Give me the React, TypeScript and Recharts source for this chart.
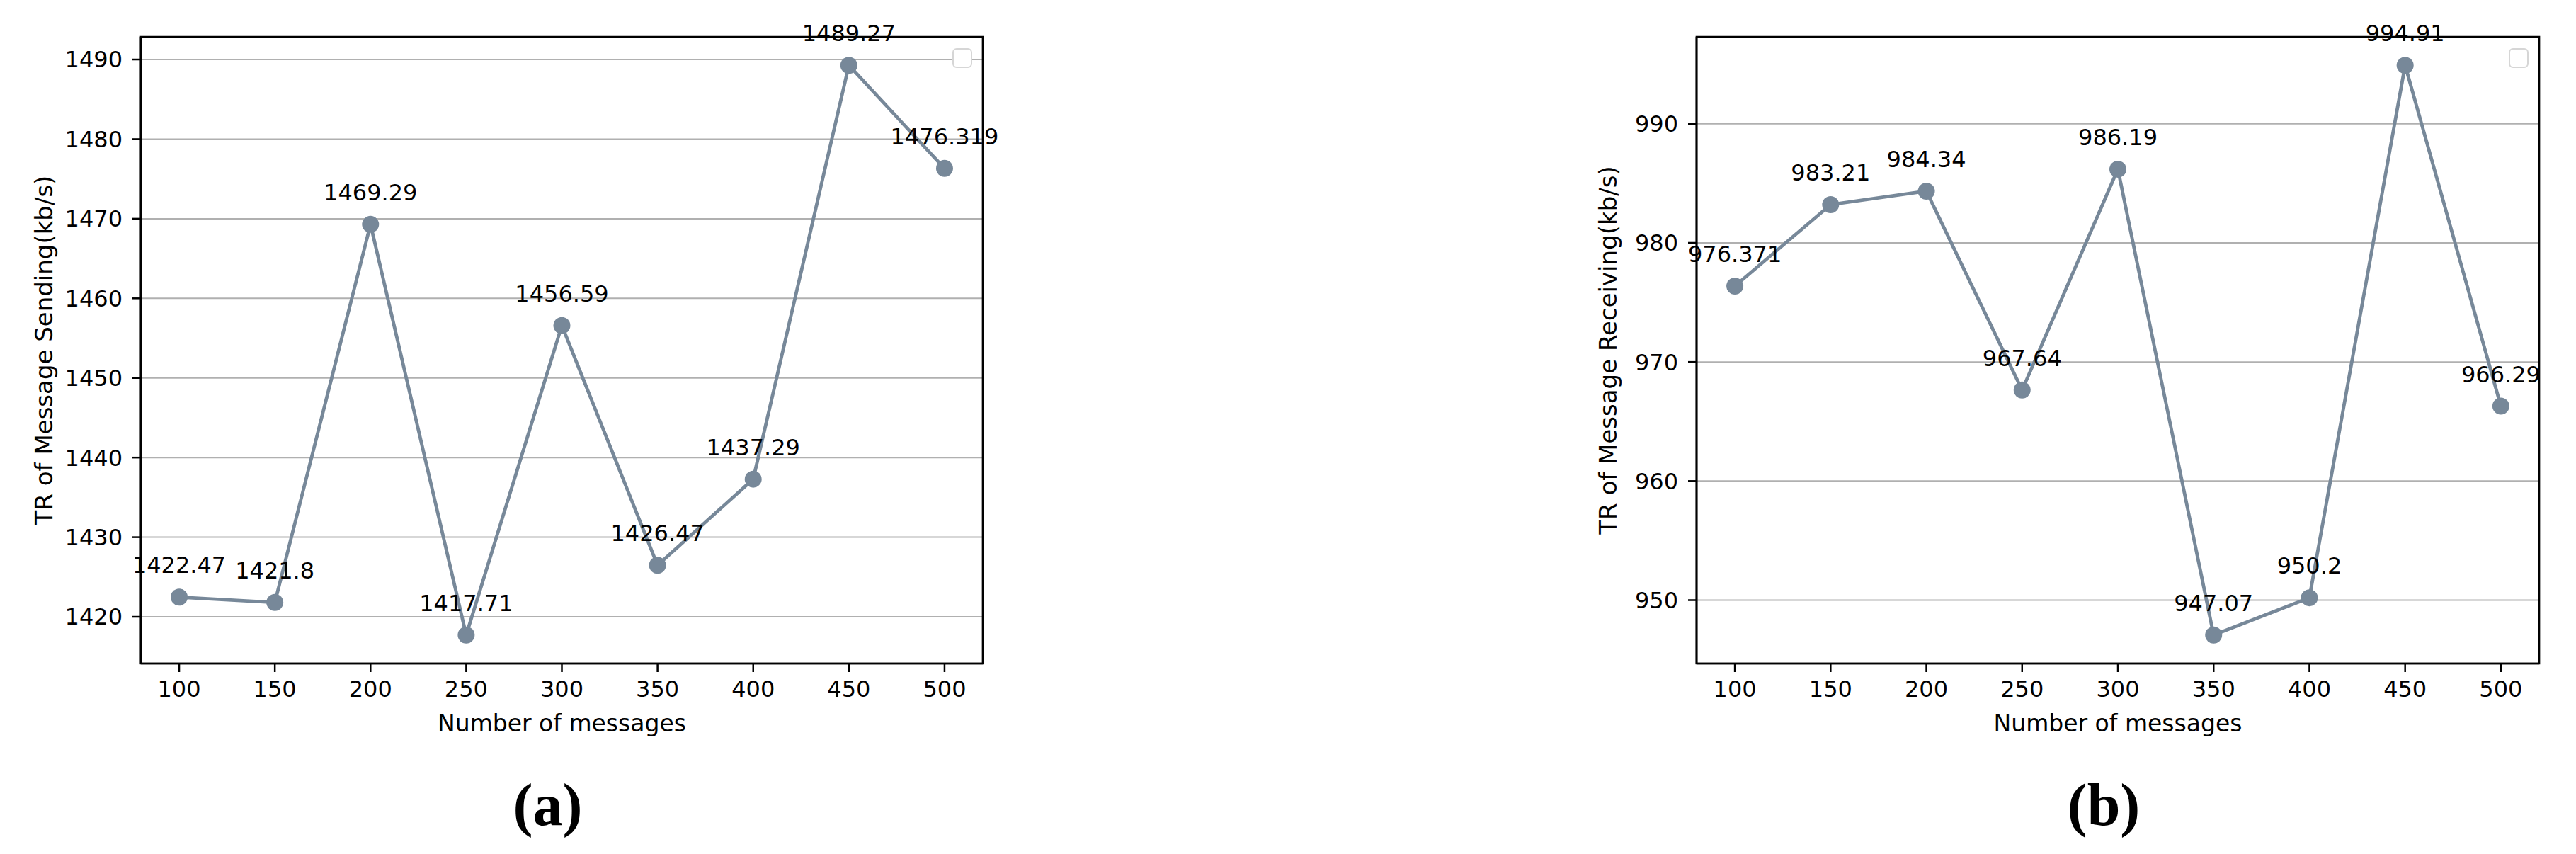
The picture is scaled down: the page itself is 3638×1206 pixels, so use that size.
import React from "react";
import {
  LineChart,
  Line,
  XAxis,
  YAxis,
  CartesianGrid,
  ReferenceArea,
  LabelList,
} from "recharts";

const messages = [100, 150, 200, 250, 300, 350, 400, 450, 500];
const sendingRate = [1422.47, 1421.8, 1469.29, 1417.71, 1456.59, 1426.47, 1437.29, 1489.27, 1476.319];
const receivingRate = [976.371, 983.21, 984.34, 967.64, 986.19, 947.07, 950.2, 994.91, 966.29];

const xTicks = [100, 150, 200, 250, 300, 350, 400, 450, 500];
const sendingTicks = [1420, 1430, 1440, 1450, 1460, 1470, 1480, 1490];
const receivingTicks = [950, 960, 970, 980, 990];

const LINE_COLOR = "#778899";
const FONT = "'DejaVu Sans', sans-serif";

// matplotlib-style 5% auto margins
function padDomain(values: number[]): [number, number] {
  const lo = Math.min(...values);
  const hi = Math.max(...values);
  const pad = (hi - lo) * 0.05;
  return [lo - pad, hi + pad];
}

interface PanelProps {
  left: number;
  width: number;
  values: number[];
  yTicks: number[];
  yLabel: string;
  yAxisWidth: number;
  rightMargin: number;
  yLabelGap: number;
  caption: string;
}

function Panel({ left, width, values, yTicks, yLabel, yAxisWidth, rightMargin, yLabelGap, caption }: PanelProps) {
  const data = messages.map((m, i) => ({ m, v: values[i] }));
  const xDomain = padDomain(messages);
  const yDomain = padDomain(values);
  const height = 1100;
  const plotLeft = yAxisWidth;
  const plotRight = width - rightMargin;

  const renderValue = (props: any) => {
    const { x, y, value } = props;
    return (
      <text x={x} y={y - 34} textAnchor="middle" fontSize={32} fill="#000" fontFamily={FONT}>
        {String(value)}
      </text>
    );
  };

  const renderYLabel = (props: any) => {
    const vb = props.viewBox || {};
    const cx = vb.x + vb.width - yLabelGap;
    const cy = vb.y + vb.height / 2;
    return (
      <text
        x={cx}
        y={cy}
        transform={`rotate(-90 ${cx} ${cy})`}
        textAnchor="middle"
        dominantBaseline="central"
        fontSize={34}
        fill="#000"
        fontFamily={FONT}
      >
        {yLabel}
      </text>
    );
  };

  const renderXLabel = (props: any) => {
    const vb = props.viewBox || {};
    return (
      <text x={vb.x + vb.width / 2} y={vb.y + 96} textAnchor="middle" fontSize={33} fill="#000" fontFamily={FONT}>
        Number of messages
      </text>
    );
  };

  return (
    <div style={{ position: "absolute", left, top: 0, width, height }}>
      <LineChart
        width={width}
        height={height}
        data={data}
        margin={{ top: 52, right: rightMargin, left: 0, bottom: 0 }}
        style={{ fontFamily: FONT }}
      >
        <CartesianGrid vertical={false} stroke="#b0b0b0" strokeWidth={2} />
        <XAxis
          dataKey="m"
          type="number"
          domain={xDomain}
          ticks={xTicks}
          allowDataOverflow
          height={height - 937}
          tick={{ fontSize: 32, fill: "#000", fontFamily: FONT }}
          tickSize={12}
          tickMargin={12}
          tickLine={{ stroke: "#000", strokeWidth: 2.5 }}
          axisLine={{ stroke: "#000", strokeWidth: 2.7 }}
          label={renderXLabel}
        />
        <YAxis
          type="number"
          domain={yDomain}
          ticks={yTicks}
          allowDataOverflow
          width={yAxisWidth}
          tick={{ fontSize: 32, fill: "#000", fontFamily: FONT }}
          tickSize={12}
          tickMargin={14}
          tickLine={{ stroke: "#000", strokeWidth: 2.5 }}
          axisLine={{ stroke: "#000", strokeWidth: 2.7 }}
          label={renderYLabel}
        />
        <ReferenceArea
          x1={xDomain[0]}
          x2={xDomain[1]}
          y1={yDomain[0]}
          y2={yDomain[1]}
          fill="none"
          fillOpacity={0}
          stroke="#000"
          strokeWidth={2.7}
        />
        <Line
          dataKey="v"
          type="linear"
          stroke={LINE_COLOR}
          strokeWidth={4.8}
          dot={{ r: 12, fill: LINE_COLOR, stroke: LINE_COLOR, strokeWidth: 0 }}
          activeDot={false}
          isAnimationActive={false}
        >
          <LabelList dataKey="v" content={renderValue} />
        </Line>
      </LineChart>
      {/* empty matplotlib legend box */}
      <div
        style={{
          position: "absolute",
          left: plotRight - 15 - 28,
          top: 68,
          width: 28,
          height: 28,
          border: "2px solid #d6d6d6",
          borderRadius: 6,
          boxSizing: "border-box",
          background: "#fff",
        }}
      />
      <div
        style={{
          position: "absolute",
          left: (plotLeft + plotRight) / 2 - 20,
          top: 1095,
          transform: "translateX(-50%)",
          fontFamily: "'Liberation Serif', serif",
          fontWeight: "bold",
          fontSize: 84,
          lineHeight: "84px",
          color: "#000",
          whiteSpace: "nowrap",
        }}
      >
        {caption}
      </div>
    </div>
  );
}

export default function App() {
  return (
    <div style={{ position: "absolute", left: 0, top: 0, width: 3638, height: 1206, background: "#fff", overflow: "hidden" }}>
      <Panel
        left={0}
        width={1420}
        values={sendingRate}
        yTicks={sendingTicks}
        yLabel="TR of Message Sending(kb/s)"
        yAxisWidth={199}
        rightMargin={32}
        yLabelGap={137}
        caption="(a)"
      />
      <Panel
        left={2200}
        width={1438}
        values={receivingRate}
        yTicks={receivingTicks}
        yLabel="TR of Message Receiving(kb/s)"
        yAxisWidth={196}
        rightMargin={52}
        yLabelGap={125}
        caption="(b)"
      />
    </div>
  );
}
